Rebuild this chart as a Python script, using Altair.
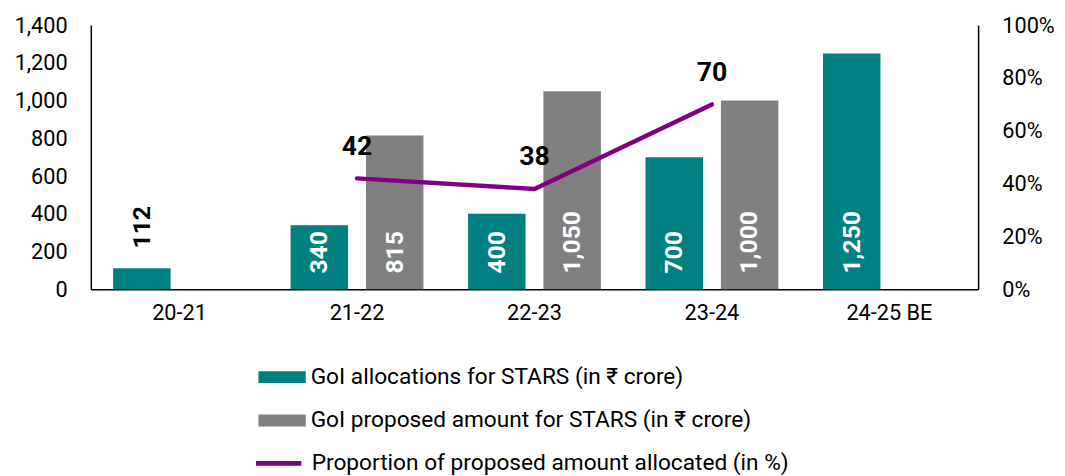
import altair as alt
import pandas as pd

categories = ["20-21", "21-22", "22-23", "23-24", "24-25 BE"]
allocated = [112, 340, 400, 700, 1250]
proposed = [None, 815, 1050, 1000, None]
proportion = [None, 42, 38, 70, None]

s_alloc = "GoI allocations for STARS (in ₹ crore)"
s_prop = "GoI proposed amount for STARS (in ₹ crore)"
s_line = "Proportion of proposed amount allocated (in %)"
bar_colors = ["#008080", "#808080"]
line_color = "#800080"

rows = []
for c, a, p in zip(categories, allocated, proposed):
    if a is not None:
        rows.append({"year": c, "series": s_alloc, "value": a, "zero": 0,
                     "label": f"{a:,}", "inside": a >= 200})
    if p is not None:
        rows.append({"year": c, "series": s_prop, "value": p, "zero": 0,
                     "label": f"{p:,}", "inside": p >= 200})
bar_df = pd.DataFrame(rows)

line_df = pd.DataFrame([
    {"year": c, "series": s_line, "pct": v, "label": str(v)}
    for c, v in zip(categories, proportion) if v is not None
])

FONT = "Roboto"
FS = 22
LFS = 23

xenc = alt.X("year:N", sort=categories,
             scale=alt.Scale(domain=categories, paddingInner=0, paddingOuter=0),
             axis=alt.Axis(title=None, labelAngle=0, labelFontSize=FS, labelColor="#000",
                           labelPadding=14, ticks=False, domainColor="#000",
                           domainWidth=1.5, labelFont=FONT))
xoff = alt.XOffset("series:N", sort=[s_alloc, s_prop],
                   scale=alt.Scale(domain=[s_alloc, s_prop], paddingInner=0.237,
                                   paddingOuter=0.296))
yscale = alt.Scale(domain=[0, 1400])
yaxis = alt.Axis(title=None, values=list(range(0, 1401, 200)), format=",.0f",
                 grid=False, ticks=False, labelFontSize=FS, labelColor="#000",
                 labelPadding=24, domainColor="#000", domainWidth=1.5,
                 labelFont=FONT)

bars = alt.Chart(bar_df).mark_bar().encode(
    x=xenc,
    xOffset=xoff,
    y=alt.Y("value:Q", scale=yscale, axis=yaxis),
    color=alt.Color("series:N",
                    scale=alt.Scale(domain=[s_alloc, s_prop], range=bar_colors),
                    legend=alt.Legend(
                        title=None, orient="none", direction="vertical",
                        legendX=182, legendY=345,
                        symbolType="M-2,-0.5H2V0.5H-2Z", symbolSize=576,
                        symbolStrokeWidth=0, symbolOpacity=1,
                        labelFontSize=LFS, labelFont=FONT, labelColor="#000",
                        labelOffset=17, rowPadding=20, labelLimit=600)),
)

inside_labels = alt.Chart(bar_df).transform_filter("datum.inside").mark_text(
    angle=270, align="left", baseline="middle", dx=16, color="white",
    fontSize=25, fontWeight="bold", font=FONT
).encode(
    x=xenc, xOffset=xoff,
    y=alt.Y("zero:Q", scale=yscale, axis=yaxis),
    text="label:N",
)

outside_labels = alt.Chart(bar_df).transform_filter("!datum.inside").mark_text(
    angle=270, align="left", baseline="middle", dx=20, color="black",
    fontSize=25, fontWeight="bold", font=FONT
).encode(
    x=xenc, xOffset=xoff,
    y=alt.Y("value:Q", scale=yscale, axis=yaxis),
    text="label:N",
)

left = alt.layer(bars, inside_labels, outside_labels)

pscale = alt.Scale(domain=[0, 100])
paxis = alt.Axis(title=None, orient="right", values=[0, 20, 40, 60, 80, 100],
                 labelExpr="datum.value + '%'", grid=False, ticks=False,
                 labelFontSize=FS, labelColor="#000", labelPadding=24,
                 domainColor="#000", domainWidth=1.5, labelFont=FONT)
line = alt.Chart(line_df).mark_line(strokeWidth=4.5, strokeCap="round", strokeJoin="round").encode(
    x=xenc,
    y=alt.Y("pct:Q", scale=pscale, axis=paxis),
    stroke=alt.Stroke("series:N",
                      scale=alt.Scale(domain=[s_line], range=[line_color]),
                      legend=alt.Legend(
                          title=None, orient="none", direction="vertical",
                          legendX=165, legendY=419,
                          symbolType="stroke", symbolSize=2116,
                          symbolStrokeWidth=5,
                          labelFontSize=LFS, labelFont=FONT, labelColor="#000",
                          labelOffset=8, labelLimit=600)),
)
line_labels = alt.Chart(line_df).mark_text(
    dy=-32, color="black", fontSize=27, fontWeight="bold", font=FONT
).encode(
    x=xenc,
    y=alt.Y("pct:Q", scale=pscale, axis=paxis),
    text="label:N",
)
right = alt.layer(line, line_labels)

chart = alt.layer(left, right).resolve_scale(y="independent").properties(
    width=900, height=268,
    padding={"left": 6, "top": 3, "right": 2, "bottom": 0},
).configure(font=FONT).configure_view(stroke=None)

chart.save("out.html", embed_options={"renderer": "svg", "actions": False})
